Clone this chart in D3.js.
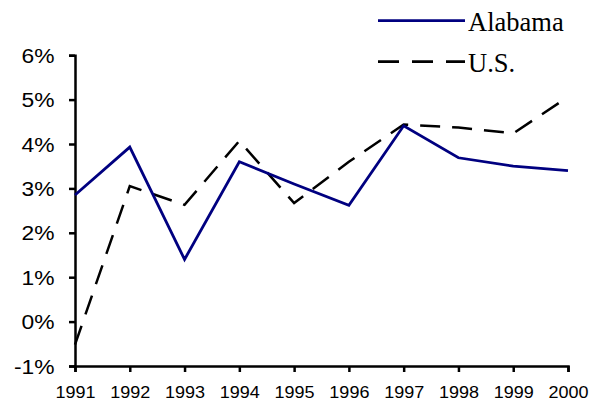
<!DOCTYPE html>
<html><head><meta charset="utf-8">
<script src="https://cdn.jsdelivr.net/npm/d3@7"></script>
<style>body{margin:0;background:#fff}svg{display:block}</style>
</head><body>
<script>
const years = [1991,1992,1993,1994,1995,1996,1997,1998,1999,2000];
const alabama = [2.85,3.93,1.40,3.60,3.10,2.62,4.41,3.69,3.50,3.40];
const us = [-0.52,3.05,2.63,4.07,2.67,3.60,4.44,4.37,4.24,5.06];
const yTicks = [-1,0,1,2,3,4,5,6];
const seriesNames = ["Alabama","U.S."];

const W=598,H=403;
const svg=d3.select("body").append("svg").attr("width",W).attr("height",H);
const x=d3.scalePoint().domain(years).range([75,568]);
const y=d3.scaleLinear().domain([-1,6]).range([366,55.2]);

const yAx=svg.append("g").attr("transform","translate(75,0)")
  .call(d3.axisLeft(y).tickValues(yTicks).tickSize(6).tickPadding(16).tickFormat(d=>d+"%"));
const xAx=svg.append("g").attr("transform","translate(0,366)")
  .call(d3.axisBottom(x).tickSize(6).tickPadding(10));
[yAx,xAx].forEach(g=>{
  g.select(".domain").attr("stroke","#000").attr("stroke-width",2.5);
  g.selectAll(".tick line").attr("stroke","#000").attr("stroke-width",2.5);
  g.selectAll("text").attr("fill","#000").attr("font-family","'Liberation Sans',Arial,sans-serif");
});
const sy=1.17;
yAx.selectAll("text").attr("font-size",19.5).attr("x",-20.5/sy).attr("dy","0.36em")
  .attr("transform",`scale(${sy},1)`);
const sx=1.06;
xAx.selectAll("text").attr("font-size",17).attr("y",20).attr("dy","0.71em")
  .attr("transform",`scale(${sx},1)`);

const line=d3.line().x((d,i)=>x(years[i])).y(d=>y(d));
svg.append("path").datum(us).attr("d",line).attr("fill","none")
  .attr("stroke","#000").attr("stroke-width",2.5).attr("stroke-dasharray","20,12");
svg.append("path").datum(alabama).attr("d",line).attr("fill","none")
  .attr("stroke","#000080").attr("stroke-width",2.8);

// legend
const lg=svg.append("g");
lg.append("line").attr("x1",378).attr("x2",465).attr("y1",20.7).attr("y2",20.7)
  .attr("stroke","#000080").attr("stroke-width",2.8);
lg.append("line").attr("x1",378).attr("x2",465).attr("y1",61.7).attr("y2",61.7)
  .attr("stroke","#000").attr("stroke-width",2.8).attr("stroke-dasharray","21,13");
lg.selectAll("text.lg").data(seriesNames).enter().append("text")
  .attr("x",468).attr("y",(d,i)=>30.7+i*41)
  .attr("font-family","'Liberation Serif','Times New Roman',serif").attr("font-size",26.5)
  .attr("fill","#000").text(d=>d);
</script>
</body></html>
